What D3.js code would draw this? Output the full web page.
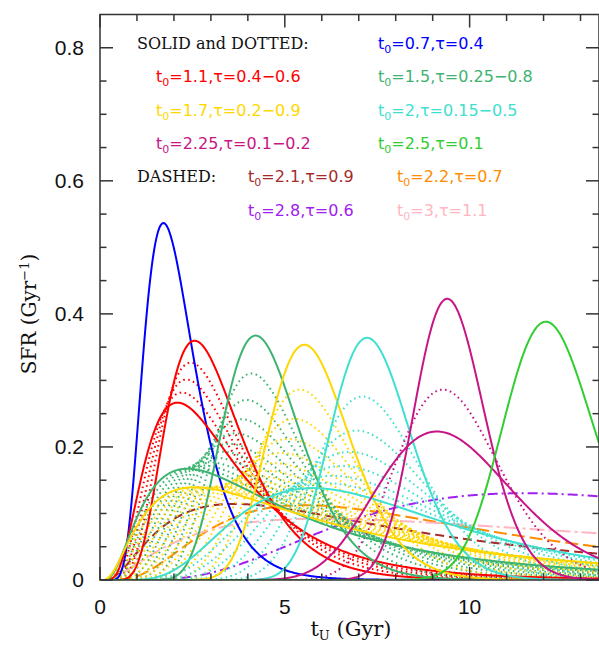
<!DOCTYPE html>
<html><head><meta charset="utf-8">
<script src="https://cdn.jsdelivr.net/npm/d3@7"></script>
<style>body{margin:0;background:#fff}</style>
</head><body>
<svg id="c" width="599" height="646"></svg>
<script>
// ---- data (log-normal SFH parameters) ----
const familyColors = ["#0000ff", "#ff0000", "#3cb371", "#ffd700", "#40e0d0", "#c71585", "#32cd32"];
const familyT0     = [0.7, 1.1, 1.5, 1.75, 2.0, 2.25, 2.5];
const familyTauMin = [0.4, 0.4, 0.25, 0.2, 0.15, 0.1, 0.1];
const familyTauMax = [0.4, 0.6, 0.8, 0.9, 0.5, 0.2, 0.1];
const familyLabels = ["t0=0.7,τ=0.4", "t0=1.1,τ=0.4−0.6", "t0=1.5,τ=0.25−0.8", "t0=1.7,τ=0.2−0.9",
                      "t0=2,τ=0.15−0.5", "t0=2.25,τ=0.1−0.2", "t0=2.5,τ=0.1"];
const tauStep = 0.05;
const dashedColors = ["#a52a2a", "#ff8c00", "#a020f0", "#ffb6c1"];
const dashedT0     = [2.1, 2.2, 2.8, 3.0];
const dashedTau    = [0.9, 0.7, 0.6, 1.1];
const dashedLabels = ["t0=2.1,τ=0.9", "t0=2.2,τ=0.7", "t0=2.8,τ=0.6", "t0=3,τ=1.1"];
const dashedPatterns = ["9,5", "13,5", "10,4,2,4", "15,4,3,4"];
const xTicksMajor = [0, 5, 10];
const yTicksMajor = [0, 0.2, 0.4, 0.6, 0.8];
const yTickLabels = ["0", "0.2", "0.4", "0.6", "0.8"];
const tNow = 13.5;

// ---- layout ----
const L = 100, R = 599, T = 14.5, B = 580;
const x = d3.scaleLinear().domain([0, tNow]).range([L, R]);
const y = d3.scaleLinear().domain([0, 0.85]).range([B, T]);
const svg = d3.select("#c");

// log-normal SFH normalised to unit mass formed by tNow
function erf(z){const s=Math.sign(z);z=Math.abs(z);const t=1/(1+0.3275911*z);
  const p=t*(0.254829592+t*(-0.284496736+t*(1.421413741+t*(-1.453152027+t*1.061405429))));
  return s*(1-p*Math.exp(-z*z));}
function Phi(z){return 0.5*(1+erf(z/Math.SQRT2));}
const tGrid = d3.range(0.02, tNow + 0.001, 0.02);
function curve(T0, tau){
  const norm = Phi((Math.log(tNow) - T0) / tau);
  return tGrid.map(t => [t, Math.exp(-Math.pow(Math.log(t) - T0, 2) / (2 * tau * tau)) /
                         (t * tau * Math.sqrt(2 * Math.PI)) / norm]);
}
const line = d3.line().x(d => x(d[0])).y(d => y(d[1]));

svg.append("clipPath").attr("id", "clip").append("rect")
  .attr("x", L).attr("y", T).attr("width", R - L).attr("height", B - T);
const g = svg.append("g").attr("clip-path", "url(#clip)");

// dashed
dashedT0.forEach((t0, i) => {
  g.append("path").attr("d", line(curve(t0, dashedTau[i]))).attr("fill", "none")
    .attr("stroke", dashedColors[i]).attr("stroke-width", 2).attr("stroke-dasharray", dashedPatterns[i]);
});
// dotted (intermediate tau)
familyT0.forEach((t0, i) => {
  const n = Math.round((familyTauMax[i] - familyTauMin[i]) / tauStep);
  for (let k = 1; k < n; k++) {
    const tau = familyTauMin[i] + k * tauStep;
    g.append("path").attr("d", line(curve(t0, tau))).attr("fill", "none")
      .attr("stroke", familyColors[i]).attr("stroke-width", 2).attr("stroke-dasharray", "1.6,3.4");
  }
});
// solid (range ends)
familyT0.forEach((t0, i) => {
  const taus = familyTauMin[i] === familyTauMax[i] ? [familyTauMin[i]] : [familyTauMin[i], familyTauMax[i]];
  taus.forEach(tau => {
    g.append("path").attr("d", line(curve(t0, tau))).attr("fill", "none")
      .attr("stroke", familyColors[i]).attr("stroke-width", 2);
  });
});

// ---- frame & ticks ----
const ax = svg.append("g").attr("stroke", "#333").attr("stroke-width", 1.5);
ax.append("rect").attr("x", L).attr("y", T).attr("width", R - L).attr("height", B - T).attr("fill", "none");
d3.range(0, 14, 1).forEach(v => {
  const len = v % 5 === 0 ? 13 : 6.5;
  ax.append("line").attr("x1", x(v)).attr("x2", x(v)).attr("y1", B).attr("y2", B - len);
  ax.append("line").attr("x1", x(v)).attr("x2", x(v)).attr("y1", T).attr("y2", T + len);
});
d3.range(0, 17).map(k => k * 0.05).forEach((v, k) => {
  const len = k % 4 === 0 ? 13 : 6.5;
  ax.append("line").attr("y1", y(v)).attr("y2", y(v)).attr("x1", L).attr("x2", L + len);
  ax.append("line").attr("y1", y(v)).attr("y2", y(v)).attr("x1", R).attr("x2", R - len);
});

const tickFont = "Liberation Sans, Arial, sans-serif";
svg.selectAll(".yl").data(yTicksMajor).enter().append("text")
  .attr("x", 84).attr("y", d => y(d) + 7).attr("text-anchor", "end")
  .attr("font-family", tickFont).attr("font-size", 21).attr("fill", "#111")
  .text((d, i) => yTickLabels[i]);
svg.selectAll(".xl").data(xTicksMajor).enter().append("text")
  .attr("x", d => x(d)).attr("y", 614).attr("text-anchor", "middle")
  .attr("font-family", tickFont).attr("font-size", 21).attr("fill", "#111")
  .text(d => d);

const serif = "DejaVu Serif, serif";
const xl = svg.append("text").attr("x", 351).attr("y", 636).attr("text-anchor", "middle")
  .attr("font-family", serif).attr("font-size", 21).attr("fill", "#111");
xl.append("tspan").text("t");
xl.append("tspan").attr("dy", 4).attr("font-size", 13).text("U");
xl.append("tspan").attr("dy", -4).text(" (Gyr)");
const yl = svg.append("text").attr("transform", "translate(36,314) rotate(-90)").attr("text-anchor", "middle")
  .attr("font-family", serif).attr("font-size", 20).attr("fill", "#111");
yl.append("tspan").text("SFR (Gyr");
yl.append("tspan").attr("dy", -7).attr("font-size", 13).text("−1");
yl.append("tspan").attr("dy", 7).text(")");

// ---- legend text ----
const legendFont = "DejaVu Sans, sans-serif";
function label(px, py, str, color){
  const t = svg.append("text").attr("x", px).attr("y", py).attr("font-family", legendFont)
    .attr("font-size", 16).attr("fill", color);
  const m = str.match(/^t0(.*)$/);
  t.append("tspan").text("t");
  t.append("tspan").attr("dy", 4).attr("font-size", 11).text("0");
  t.append("tspan").attr("dy", -4).text(m[1]);
}
svg.append("text").attr("x", 137).attr("y", 49).attr("font-family", serif).attr("font-size", 16)
  .attr("fill", "#111").text("SOLID and DOTTED:");
svg.append("text").attr("x", 137).attr("y", 182).attr("font-family", serif).attr("font-size", 16)
  .attr("fill", "#111").text("DASHED:");
const famPos = [[378, 49], [156, 82], [378, 82], [156, 116], [378, 116], [156, 149], [378, 149]];
familyLabels.forEach((s, i) => label(famPos[i][0], famPos[i][1], s, familyColors[i]));
const dashPos = [[248, 182], [397, 182], [248, 216], [397, 216]];
dashedLabels.forEach((s, i) => label(dashPos[i][0], dashPos[i][1], s, dashedColors[i]));
</script>
</body></html>
